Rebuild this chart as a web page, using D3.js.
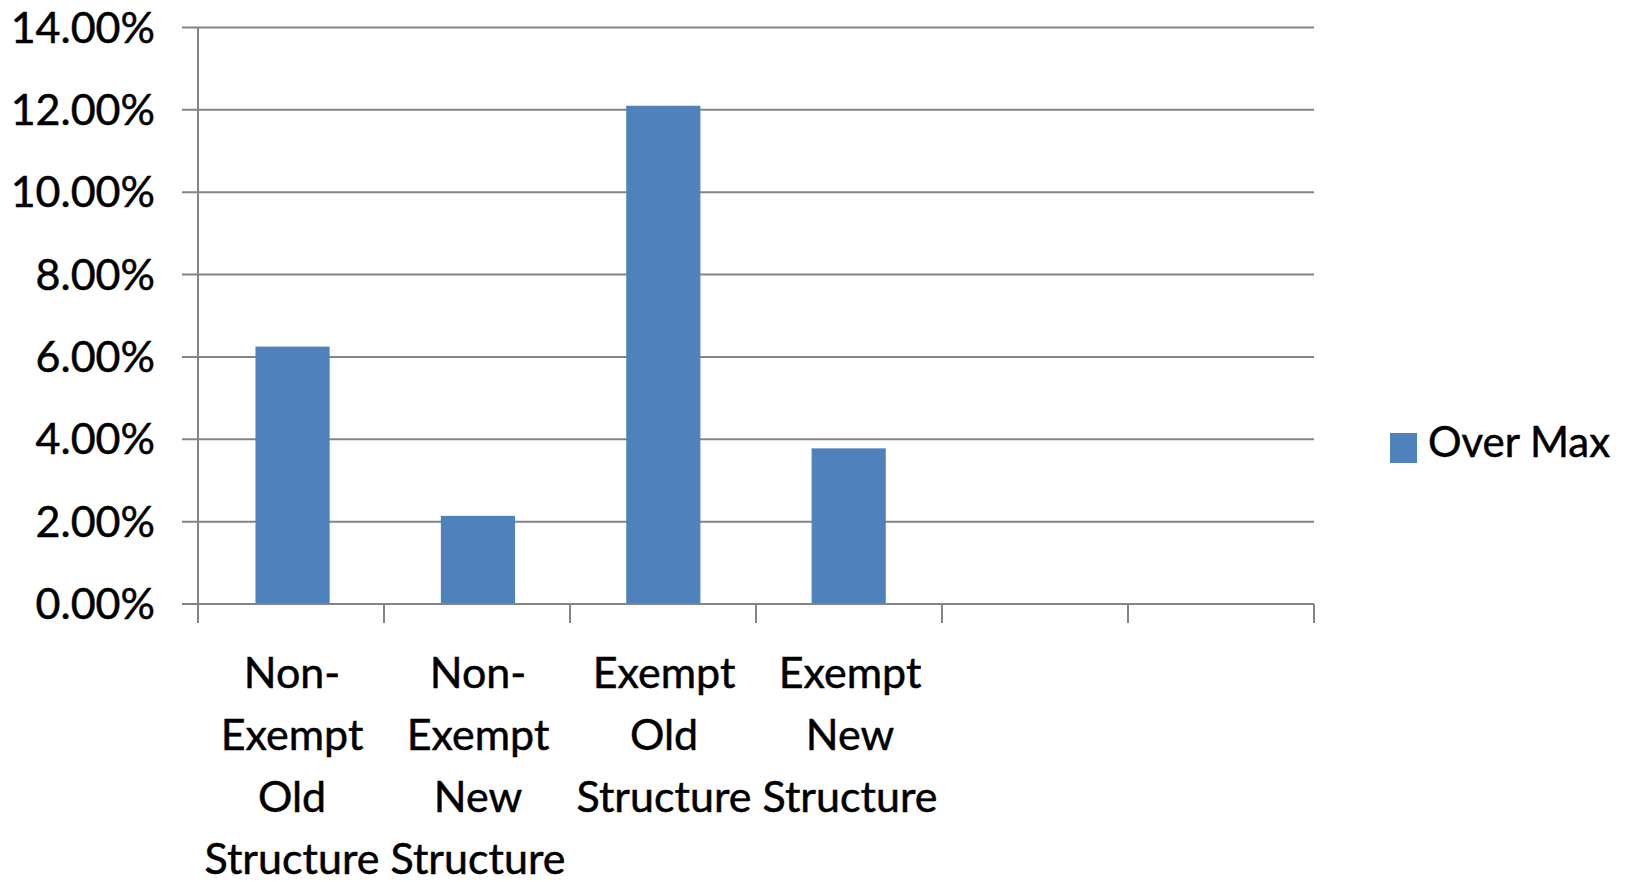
<!DOCTYPE html>
<html>
<head>
<meta charset="utf-8">
<script src="https://cdn.jsdelivr.net/npm/d3@7/dist/d3.min.js"></script>
<style>
  html, body { margin: 0; padding: 0; background: #ffffff; }
  svg { display: block; }
  text { font-family: Lato, "Open Sans", sans-serif; fill: #000; stroke: #000; stroke-width: 0.5px; }
</style>
</head>
<body>
<svg id="chart" width="1625" height="882"></svg>
<script>
// ---- data ----
const categories = ["Non-Exempt Old Structure", "Non-Exempt New Structure", "Exempt Old Structure", "Exempt New Structure", "", ""];
const overMax = [0.0625, 0.0214, 0.1210, 0.0378, null, null];
const yTicks = [0, 0.02, 0.04, 0.06, 0.08, 0.10, 0.12, 0.14];
const seriesName = "Over Max";

// ---- layout ----
const W = 1625, H = 882;
const plot = { left: 198, right: 1314, top: 27.5, bottom: 604 };
const barColor = "#4F81BD";
const gridColor = "#848484";
const fontSize = 43;

const svg = d3.select("#chart");

const x = d3.scaleBand()
  .domain(d3.range(categories.length))
  .range([plot.left, plot.right])
  .paddingInner(0.6)
  .paddingOuter(0.31);

const xSlots = d3.scaleBand()
  .domain(d3.range(categories.length))
  .range([plot.left, plot.right])
  .padding(0);

const y = d3.scaleLinear().domain([0, 0.14]).range([plot.bottom, plot.top]);

// gridlines (with outward tick stub)
svg.append("g").selectAll("line.grid")
  .data(yTicks)
  .join("line")
  .attr("class", "grid")
  .attr("x1", plot.left - 16)
  .attr("x2", plot.right)
  .attr("y1", d => y(d))
  .attr("y2", d => y(d))
  .attr("stroke", gridColor)
  .attr("stroke-width", 2);

// y tick labels
const fmt = d3.format(".2%");
svg.append("g").selectAll("text.ylab")
  .data(yTicks)
  .join("text")
  .attr("class", "ylab")
  .attr("x", 155)
  .attr("y", d => y(d))
  .attr("dy", "0.35em")
  .attr("text-anchor", "end")
  .style("font-size", fontSize + "px")
  .text(d => fmt(d));

// bars
svg.append("g").selectAll("rect.bar")
  .data(overMax.map((v, i) => ({ v, i })).filter(d => d.v != null))
  .join("rect")
  .attr("class", "bar")
  .attr("x", d => x(d.i))
  .attr("width", x.bandwidth())
  .attr("y", d => y(d.v))
  .attr("height", d => y(0) - y(d.v))
  .attr("fill", barColor);

// y axis line
svg.append("line")
  .attr("x1", plot.left).attr("x2", plot.left)
  .attr("y1", y(0.14)).attr("y2", plot.bottom + 19)
  .attr("stroke", gridColor).attr("stroke-width", 2);

// x axis line
svg.append("line")
  .attr("x1", plot.left).attr("x2", plot.right)
  .attr("y1", y(0)).attr("y2", y(0))
  .attr("stroke", gridColor).attr("stroke-width", 2);

// x ticks at slot boundaries
const boundaries = d3.range(categories.length + 1).map(i => i < categories.length ? xSlots(i) : plot.right);
svg.append("g").selectAll("line.xtick")
  .data(boundaries)
  .join("line")
  .attr("class", "xtick")
  .attr("x1", d => d).attr("x2", d => d)
  .attr("y1", y(0)).attr("y2", y(0) + 19)
  .attr("stroke", gridColor).attr("stroke-width", 2);

// category labels, wrapped one word per line (break after hyphen)
function wrapWords(s) {
  if (!s) return [];
  return s.replace(/-/g, "- ").split(/\s+/).filter(Boolean);
}
const catG = svg.append("g");
categories.forEach((c, i) => {
  const lines = wrapWords(c);
  const cx = xSlots(i) + xSlots.bandwidth() / 2 + 1;
  const t = catG.append("text")
    .attr("text-anchor", "middle")
    .style("font-size", fontSize + "px");
  lines.forEach((ln, k) => {
    t.append("tspan").attr("x", cx).attr("y", 688 + k * 62).text(ln);
  });
});

// legend
const lg = svg.append("g");
lg.append("rect")
  .attr("x", 1390).attr("y", 433)
  .attr("width", 27).attr("height", 30)
  .attr("fill", barColor);
lg.append("text")
  .attr("x", 1428).attr("y", 457)
  .style("font-size", "42px")
  .text(seriesName);
</script>
</body>
</html>
